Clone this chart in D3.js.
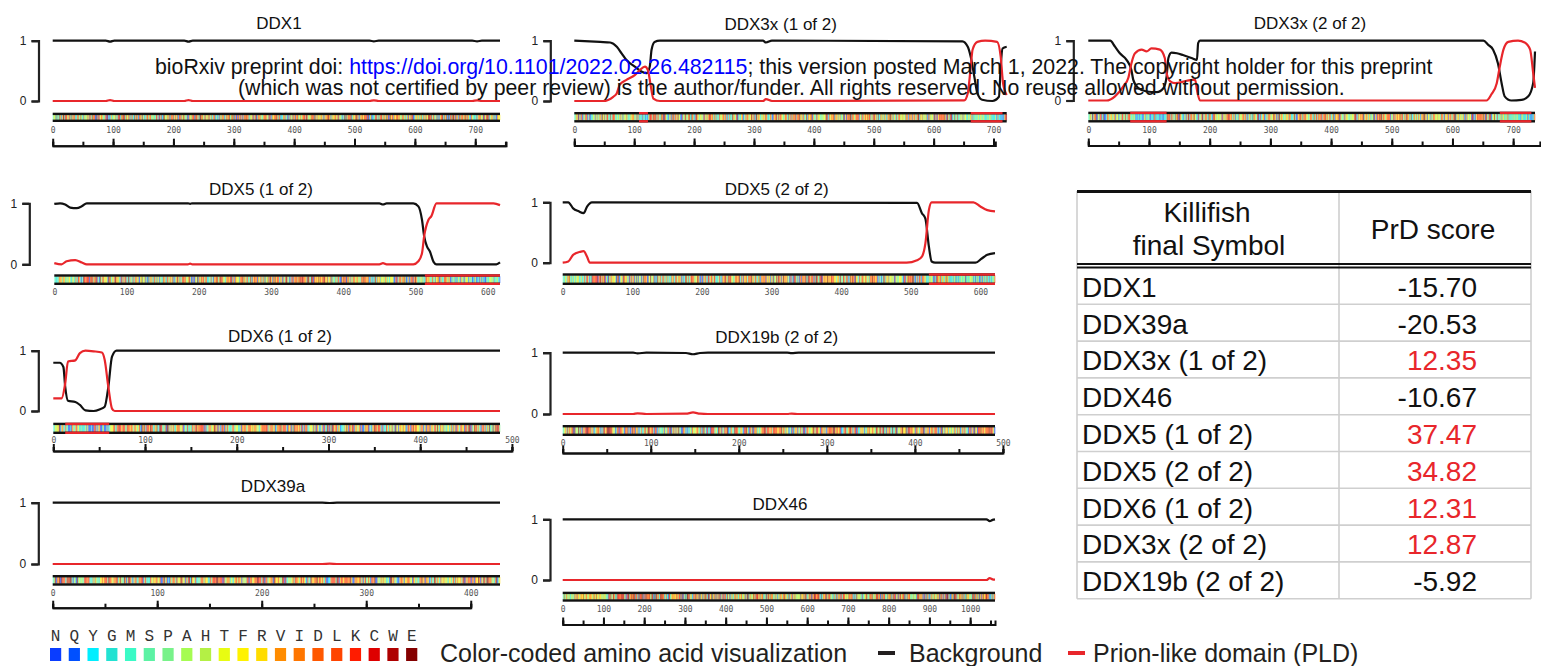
<!DOCTYPE html>
<html>
<head>
<meta charset="utf-8">
<script src="https://cdn.jsdelivr.net/npm/d3@7"></script>
<style>
  body { margin: 0; background: #fff; }
  svg { display: block; font-family: "Liberation Sans", Arial, sans-serif; }
</style>
</head>
<body>
<svg id="fig" width="1541" height="666"></svg>
<script>
// ---- data ----
const titles = ["DDX1", "DDX3x (1 of 2)", "DDX3x (2 of 2)", "DDX5 (1 of 2)", "DDX5 (2 of 2)",
                "DDX6 (1 of 2)", "DDX19b (2 of 2)", "DDX39a", "DDX46"];
const lengths = [741, 722, 736, 617, 621, 487, 491, 428, 1061];
const tickMax = [700, 700, 700, 600, 600, 500, 500, 400, 1000];
const rulerEnds = [751, 703, 744, null, null, 500, 500, 400, 1061];

// background (black) and PLD (red) probability curves, [residue, value]
const ddx1Bg = [[0,1],[88,1],[95,0.985],[102,1],[218,1],[225,0.985],[232,1],[525,1],[532,0.99],[540,1],[695,1],[703,0.99],[711,1],[741,1]];
const ddx1Pld = [[0,0],[88,0],[95,0.015],[102,0],[218,0],[225,0.015],[232,0],[525,0],[532,0.01],[540,0],[695,0],[703,0.01],[711,0],[741,0]];
const ddx3aBg = [[0,1],[43,0.98],[60,0.97],[71,0.9],[79,0.79],[87,0.68],[101,0.57],[112,0.49],[121,0.46],[126,0.57],[129,0.85],[134,0.98],[143,1],[315,1],[320,0.97],[330,1],[648,0.99],[657,0.9],[662,0.73],[668,0.4],[673,0.13],[681,0.02],[698,0],[709,0.07],[712,0.57],[715,0.87],[722,0.9]];
const ddx3aPld = [[0,0],[48,0],[65,0.07],[71,0.13],[76,0.27],[87,0.35],[101,0.43],[109,0.51],[118,0.57],[123,0.51],[127,0.29],[132,0.04],[143,0],[315,0],[320,0.03],[330,0],[651,0.01],[657,0.13],[662,0.57],[665,0.85],[673,0.98],[686,1],[706,0.98],[712,0.73],[716,0.29],[722,0.1]];
const ddx3bBg = [[0,1],[36,1],[44,0.9],[52,0.79],[63,0.68],[71,0.51],[74,0.35],[82,0.21],[96,0.15],[113,0.14],[124,0.21],[129,0.4],[132,0.71],[137,0.8],[146,0.79],[156,0.76],[170,0.71],[179,0.68],[181,0.96],[184,1],[651,1],[659,0.93],[667,0.85],[675,0.62],[681,0.29],[686,0.07],[697,0],[714,0.01],[725,0.07],[733,0.29],[736,0.82]];
const ddx3bPld = [[0,0],[30,0],[44,0.07],[58,0.24],[66,0.38],[71,0.62],[77,0.79],[88,0.85],[96,0.82],[104,0.87],[118,0.85],[126,0.71],[129,0.46],[135,0.32],[143,0.29],[162,0.33],[176,0.35],[179,0.18],[184,0],[656,0],[664,0.1],[673,0.29],[678,0.57],[684,0.85],[692,0.98],[708,1],[719,0.97],[728,0.85],[733,0.46],[736,0.21]];
const ddx5aBg = [[0,0.99],[8,1],[15,0.98],[22,0.93],[31,0.92],[38,0.95],[45,1],[185,1],[188,0.99],[191,1],[450,1],[455,0.98],[460,1],[497,1],[504,0.95],[509,0.73],[512,0.46],[516,0.29],[520,0.21],[525,0.04],[529,0],[612,0],[617,0.03]];
const ddx5aPld = [[0,0.02],[10,0],[17,0.05],[29,0.07],[38,0.03],[45,0],[185,0],[188,0.01],[191,0],[450,0],[455,0.02],[460,0],[497,0],[504,0.05],[509,0.18],[512,0.46],[518,0.73],[522,0.79],[529,1],[608,1],[617,0.97]];
const ddx5bBg = [[0,1],[8,1],[15,0.9],[23,0.85],[30,0.82],[35,0.93],[42,1],[497,0.99],[509,0.99],[516,0.82],[521,0.73],[526,0.27],[530,0.02],[535,0],[593,0],[602,0.07],[610,0.13],[621,0.16]];
const ddx5bPld = [[0,0],[8,0.02],[15,0.13],[25,0.18],[30,0.19],[35,0.1],[39,0],[494,0],[509,0.04],[516,0.1],[521,0.32],[526,0.87],[530,1],[590,1],[600,0.93],[610,0.87],[621,0.85]];
const ddx6Bg = [[0,0.8],[7,0.8],[11,0.73],[13,0.4],[16,0.17],[24,0.15],[29,0.1],[35,0.01],[44,0],[51,0.03],[56,0.07],[60,0.4],[64,0.9],[69,1],[487,1]];
const ddx6Pld = [[0,0.21],[9,0.21],[13,0.46],[16,0.82],[24,0.84],[29,0.96],[35,1],[44,0.99],[53,0.97],[56,0.85],[60,0.4],[64,0.04],[67,0],[487,0]];
const ddx19Bg = [[0,1],[80,1],[85,0.99],[95,1],[140,0.995],[148,0.975],[156,0.995],[165,1],[255,1],[260,0.993],[268,1],[491,1]];
const ddx19Pld = [[0,0],[80,0],[85,0.01],[95,0],[140,0.005],[148,0.025],[156,0.005],[165,0],[255,0],[260,0.007],[268,0],[491,0]];
const ddx39Bg = [[0,1],[258,1],[265,0.995],[272,1],[428,1]];
const ddx39Pld = [[0,0],[258,0],[265,0.005],[272,0],[428,0]];
const ddx46Bg = [[0,1],[1040,1],[1048,0.97],[1055,0.99],[1061,1]];
const ddx46Pld = [[0,0],[1040,0],[1048,0.03],[1055,0.01],[1061,0.005]];

const bgCurves = [ddx1Bg, ddx3aBg, ddx3bBg, ddx5aBg, ddx5bBg, ddx6Bg, ddx19Bg, ddx39Bg, ddx46Bg];
const pldCurves = [ddx1Pld, ddx3aPld, ddx3bPld, ddx5aPld, ddx5bPld, ddx6Pld, ddx19Pld, ddx39Pld, ddx46Pld];

// PLD stretches marked in red on the sequence bar
const pldRegions = [[], [[108,123],[662,715]], [[69,129],[678,730]], [[513,617]], [[526,621]], [[13,61]], [], [], []];

// sequence segments: [end residue, letters]
const ddx1Seq = [[741, "MAAFSEMGVMPEIAQAVEEMDWLLPTDIQAESIPLILGGGDVLMAAETGSGKTGAFSIPVIQIVYETLKDQQEGKKGKTTIKTGASVLNKWQMNPYDRGSAFAIGSDGLCCQSREVKEWHGCRATKGLMKGKHYYEVSCHDQGLCRVGWSTMQASLDLGTDKFGFGFGGTGKKSHNKQFDNYGEEFTMHDTIGCYLDIDKGHVKFSKNGKDLGLAFEIPPHMKNQALFPACVLKNAELKFNFGEEEFKFPPKDGFVALSKAPDGYIVKSQHSGNAQVTQTKFLPNAPKALIVEPSRELAEQTLNNIKQFKKYIDNPKLRELLIIGGVAARDQLSVLENGVDIVVGTPGRLDDLVSTGKLNLSQVRFLVLDEADGLLSQGYSDFINRMHNQIPQVTSDGKRLQVIVCSATLHSFDVKKLSEKIMHFPTWVDLKGEDSVPDTVHHVVVPVNPKTDRLWERLGKSHIRTDDVHAKDNTRPGANSPEMWSEAIKILKGEYAVRAIKEHKMDQAIIFCRTKIDCDNLEQYFIQQGGGPDKKGHQFSCVCLHGDRKPHERKQNLERFKKGDVRFLICTDVAARGIDIHGVPYVINVTLPDEKQNYVHRIGRVGRAERMGLAISLVATEKEKVWYHVCSSRGKGCYNTRLKEDGGCTIWYNEMQLLSEIEEHLNCTISQVEPDIKVPVDEFDGKVTYGQKRAAGGGSYKGHVDILAPTVQELAALEKEAQTSFLHLGYLPNQLFRTF"]];
const ddx3aSeq = [
  [108, "MSHVAVENALGLDQQFAGLDLNSSDNQSGGSTASKGRYIPPHLRNREATKGFYDKDSSGWSSSKDKDAYSSFGSRSDSRGKSSFFSDRGSGSRGRFDDRGRSDYDGI"],
  [123, "GGSYGNRGGSQGYGN"],
  [662, "SRWCDKSDEDDWSKPLPPSERLEQELFSGGNTGINFEKYDDIPVEATGNNCPPHIESFSDVEMGEIIMGNIELTRYTRPTPVQKHAIPIIKEKRDLMACAQTGSGKTAAFLLPILSQIYSDGPGEALRAMKENGRYGRRKQYPISLVLAPTRELAVQIYEEARKFSYRSRVRPCVVYGGADIGQQIRDLERGCHLLVATPGRLVDMMERGKIGLDFCKYLVLDEADRMLDMGFEPQIRRIVEQDTMPPKGVRHTMMFSATFPKEIQMLARDFLDEYIFLAVGRVGSTSENITQKVVWVEESDKRSFLLDLLNATGKDSLTLVFVETKKGADSLEDFLYHEGYACTSIHGDRSQRDREEALHQFRSGKSPILVATAVAARGLDISNVKHVINFDLPSDIEEYVHRIGRTGRVGNLGLATSFFNERNINITKDLLDLLVEAKQEVPSWLENMAYEHHYKGSSRGRSKSSRFSGGFGAR"],
  [715, "DYRQSSGASSSSFSSSRASSSRSGGGGHGSSRGFGGGGYGGFYNSDGYGGNYN"],
  [722, "SQGVDWW"]];
const ddx3bSeq = [
  [69, "MSHVAPENAVDLEQQFAGLDLNSSEQNQSGKTDAGRFIPPHLRNRPTTQSSFYDKDSSRWSPSKDKD"],
  [129, "AYSSFGSRGNYNSGGQSGYGNQSRGDYSGFGSNQGGYSNRWSQSGYGGNSQYSNQGGGYS"],
  [678, "DEDDWSKPLPPSERLEQELFSGGNTGINFEKYDDIPVEATGSNCPPHIENFSDIDMGEIIMGNIELTRYTRPTPVQKHAIPIIKEKRDLMACAQTGSGKTAAFLLPILSQIYTDGPGEALRAMKENGKYGRRKQYPISLVLAPTRELAVQIYEEARKFSYRSRVRPCVVYGGAEIGQQIRDLERGCHLLVATPGRLVDMMERGKIGLDFCKYLVLDEADRMLDMGFEPQIRRIVEQDTMPPKGVRHTMMFSATFPKEIQMLARDFLDEYIFLAVGRVGSTSENITQKVVWVEEADKRSFLLDLLNATGKDSLTLVFVETKKGADSLEDFLYHEGYACTSIHGDRSQRDREEALHQFRSGKSPILVATAVAARGLDISNVRHVINFDLPSDIEEYVHRIGRTGRVGNLGLATSFFNEKNMNITKDLLDLLVEAKQEVPSWLENMAFEHHYKGSS"],
  [730, "RGRSKSSRFSGGFGSRDYRQSSGSGSSGFGSSRGSSSRSGGGGYGNSRGFGGGGYGGFYNSDGYGGNY"],
  [736, "NSQGVD"]];
const ddx5aSeq = [
  [513, "MSGYSSDRDRGRDRGFGAPRFGGSRAGPLSGKKFGNPGEKLVKKKWNLDELPKFEKNFYQEHPDLARRTAQEVETYRRSKEITVRGHNCPKPVLNFYEANFPANVMDVIARQNFTEPTAIQAQGWPVALSGLDMVGVAQTGSGKTLSYLLPAIVHINHQPFLERGDGPICLVLAPTRELAQQVQQVAAEYCRACRLKSTCIYGGAPKGPQIRDLERGVEICIATPGRLIDFLECGKTNLRRTTYLVLDEADRMLDMGFEPQIRKIVDQIRPDRQTLMWSATWPKEVRQLAEDFLKDYIHINIGALELSANHNILQIVDVCHDVEKDEKLIRLMEEIMSEKENKTIVFVETKRRCDELTRKMRRDGWPAMGIHGDKSQQERDWVLNEFKHGKAPILIATDVASRGLDVEDVKFVINYDYPNSSEDYIHRIGRTARSTKTGTAYTFFTPNNIKQVSDLISVLREANQAINPKLLQLVEDRGSGRSRGRGG"],
  [617, "MKDDRRDRYSAGKRGGFNTFRDRENYDRGYSSLLKRDFGAKTQNGVYSAANYTNGSFGSNFVSAGIQTSFRTGNPTGTYQNGYDSTQQYGSNVPNMHNGMNQQAYAYPATAAAPMIGYPMPTGYSQ"]];
const ddx5bSeq = [
  [526, "MPGFSSDRERGGRGGFGAPRFGGSRGGPLSGKKFGNPGEKLVKKKWNLDELPKFEKNFYQEHPDVARRTPQEVEQYRRSKEITVRGHNCPKPIINFYEANFPANVMEVIKRQNFTEPTAIQAQGWPVALSGLDMVGVAQTGSGKTLSYLLPAIVHINHQPYLERGDGPICLVLAPTRELAQQVQQVADDYGKCSRLKSTCIYGGAPKGPQIRDLERGVEICIATPGRLIDFLESGKTNLRRCTYLVLDEADRMLDMGFEPQIRKIVDQIRPDRQTLMWSATWPKEVRQLAEDFLRDYTQINVGNLELSANHNILQIVDVCMESEKDHKLIQLMEEIMAEKENKTIIFVETKRRCDDLTRRMRRDGWPAMCIHGDKSQPERDWVLNEFRSGKAPILIATDVASRGLDVEDVKFVINYDYPNSSEDYVHRIGRTARSTNKGTAYTFFTPGNLKQARELIKVLEEANQAINPKLMQLVDHRGGGG"],
  [621, "RSRYRTTSSANNPNLMYQDECDRRLRGVKDGGRRDSASYRDRSETDRAGYANGSGYGSPNSAFGAQAGQYTYGQGTYGAAAYGTSSYTAQEYGAGTYGASSTTSTGRSSQSSSQQFSGIGRSGQQPQPLMSQQFAQPPGATNMIGYMGQTAYQYPPPPPSRK"]];
const ddx6Seq = [
  [13, "MSTARTENPVIMG"],
  [61, "LSSQNGQLRGPVKPTGGPGGGGTQTQQQMNQLKNTNTINNGTQQQAQS"],
  [487, "MTTTIKPGDDWKKTLKLPPKDLRIKTSDVTSTKGNEFEDYCLKRELLMGIFEMGWEKPSPIQEESIPIALSGRDILARAKNGTGKSGAYLIPLLERLDLKKDNIQAMVIVPTRELALQVSQICIQVSKHMGGAKVMATTGGTNLRDDIMRLDDTVHVVIATPGRILDLIKKGVAKVDHVQMIVLDEADKLLSQDFVQIMEDIILTLPKNRQILLYSATFPLSVQKFMNSHLQKPYEINLMEELTLKGVTQYYAYVTERQKVHCLNTLFSRLQINQSIIFCNSSQRVELLAKKISQLGYSCFYIHAKMRQEHRNRVFHDFRNGLCRNLVCTDLFTRGIDIQAVNVVINFDFPKLAETYLHRIGRSGRFGHLGLAINLITYDDRFNLKSIEEQLGTEIKPIPSNIDKSLYVAEYHSEPVEDEKP"]];
const ddx19Seq = [[491, "MATDSWALAVDEQEAAAESLSNLHLKEEKIKPDTNGAVVKTNANAEKTDEEEKEDRAAQSLLNKLIRSNLVDNTNQVEVLQRDPNSPLYSVKSFEELRLKPQLLQGVYAMGFNRPSKIQENALPLMLAEPPQNLIAQSQSGTGKTAAFVLAMLSQVEPANKYPQCLCLSPTYELALQTGKVIEQMGKFYPELKLAYAVRGNKLERGQKISEQIVIGTPGTVLDWCSKLKFIDPKKIKVFVLDEADVMIATQGHQDQSIRIQRMLPRNCQMLLFSATFEDSVWKFAQKVVPDPNVIKLKREEETLDTIKQYYVLCSSRDEKFQALCNLYGAITIAQAMIFCHTRKTASWLAAELSKEGHQVALLSGEMMVEQRAAVIERFREGKEKVLVTTNVCARGIDVEQVSVVINFDLPVDKDGNPDNETYLHRIGRTGRFGKRGLAVNMVDSKHSMNILNRIQEHFNKKIERLDTDDLDEIEKIAN"]];
const ddx39Seq = [[428, "MAEQDVENELLDYDEDEEPQAPQESTPAPPKKDIKGSYVSIHSSGFRDFLLKPELLRAIVDCGFEHPSEVQHECIPQAILGMDVLCQAKSGMGKTAVFVLATLQQIEPVNGQVSVLVMCHTRELAFQISKEYERFSKYMPSVKVSVFFGGLSIKKDEEVLKKNCPHVVVGTPGRILALVRNRSFSLKNVKHFVLDECDKMLEQLDMRRDVQEIFRLTPHEKQCMMFSATLSKDIRPVCRKFMQDPMEVFVDDETKLTLHGLQQYYVKLKDSEKNRKLFDLLDVLEFNQVIIFVKSVQRCMALAQLLVEQNFPAIAIHRGMAQEERLSRYQQFKDFQRRILVATNLFGRGMDIERVNIVFNYDMPEDSDTYLHRVARAGRFGTKGLAITFVSDENDAKILNDVQDRFEVNVAELPEEIDISTYIEQSR"]];
const ddx46Seq = [[1061, "MGRESRHYRKRSASRGRSGSRSRSRSPSDKRSKRGDDRRSRSRDRDRRRERSRSRDKRRSRSRDRKRLRRSRSRERDRSRERRRSRSRDRRRSRSRSRGRRSRSSSPGNKSKKTENRSRSKEKTDGGESSKEKKKDKDDKEDEKEKDAGNFDQNKLEEEMRKRKERVEKWREEQRKKAMENIGELKKEIEEMKQGKKWSLEDDDDDEDDPAEAEKEGNEMEGEELDPLDAYMEEVKEEVKKFNMRSVKGGGGNEKKSGPTVTKVVTVVTTKKAVVDSDKKKGELMENDQDAMEYSSEEEEVDLQTALTGYQTKQRKLLEPVDHGKIEYEPFRKNFYVEVPELAKMSQEEVNVFRLEMEGITVKGKGCPKPIKSWVQCGISMKILNSLKKHGYEKPTPIQTQAIPAIMSGRDLIGIAKTGSGKTIAFLLPMFRHIMDQRSLEEGEGPIAVIMTPTRELALQITKECKKFSKTLGLRVVCVYGGTGISEQIAELKRGAEIIVCTPGRMIDMLAANSGRVTNLRRVTYVVLDEADRMFDMGFEPQVMRIVDNVRPDRQTVMFSATFPRAMEALARRILSKPIEVQVGGRSVVCSDVEQQVIVIEEEKKFLKLLELLGHYQESGSVIIFVDKQEHADGLLKDLMRASYPCMSLHGGIDQYDRDSIINDFKNGTCKLLVATSVAARGLDVKHLILVVNYSCPNHYEDYVHRAGRTGRAGNKGYAYTFITEDQARYAGDIIKALELSGTAVPPDLEKLWSDFKDQQKAEGKIIKKSSGFSGKGFKFDETEQALANERKKLQKAALGLQDSDDEDAAVDIDEQIESMFNSKKRVKDMAAPGTSSVPAPTAGNAEKLEIAKRLALRINAQKNLGIESQVDVMQQATNAILRGGTILAPTVSAKTIAEQLAEKINAKLNYVPLEKQEEERQDGGQNESFKRYEEELEINDFPQTARWKVTSKEALQRISEYSEAAITIRGTYFPPGKEPKEGERKIYLAIESANELAVQKAKAEITRLIKEELIRLQNSYQPTNKGRYKVL"]];
const sequences = [ddx1Seq, ddx3aSeq, ddx3bSeq, ddx5aSeq, ddx5bSeq, ddx6Seq, ddx19Seq, ddx39Seq, ddx46Seq];

// amino acid colour key
const aaLetters = ["N","Q","Y","G","M","S","P","A","H","T","F","R","V","I","D","L","K","C","W","E"];
const aaColors = ["#0a3dff","#0050ff","#00eeff","#22e2d2","#3afac6","#5cf2a4","#78f28a","#a6fc52","#b4f045","#e8fc12",
                  "#fff200","#ffdc00","#ff8c00","#ff7600","#ff5800","#ff4400","#ff1c00","#de0000","#ae0000","#840000"];

// table
const tableSymbols = ["DDX1", "DDX39a", "DDX3x (1 of 2)", "DDX46", "DDX5 (1 of 2)", "DDX5 (2 of 2)",
                      "DDX6 (1 of 2)", "DDX3x (2 of 2)", "DDX19b (2 of 2)"];
const tableScores = [-15.70, -20.53, 12.35, -10.67, 37.47, 34.82, 12.31, 12.87, -5.92];

// ---- layout ----
const boxes = [
  {x0: 52.7,  x1: 500,    y1: 40.7,  y0: 101,   bt: 112.7, bb: 122,   ly: 130,   ry: 145.7, tx: 279,   ty: 29.3,  ax: 38.5},
  {x0: 574.3, x1: 1006.7, y1: 40.7,  y0: 101,   bt: 112,   bb: 122.5, ly: 130,   ry: 145.5, tx: 780.7, ty: 30,    ax: 550.3},
  {x0: 1088.3, x1: 1535,  y1: 40.7,  y0: 100.5, bt: 111.7, bb: 122.5, ly: 130,   ry: 145.5, tx: 1310,  ty: 28.5,  ax: 1073.3},
  {x0: 54.3,  x1: 500,    y1: 203.3, y0: 264.3, bt: 274.3, bb: 285,   ly: 291.7, ry: null,  tx: 261,   ty: 195,   ax: 29.3},
  {x0: 562.7, x1: 995,    y1: 202.3, y0: 262.7, bt: 273.3, bb: 285,   ly: 291.7, ry: null,  tx: 776.7, ty: 195,   ax: 550},
  {x0: 53.3,  x1: 500,    y1: 350.7, y0: 411,   bt: 422.7, bb: 434,   ly: 440,   ry: 451,   tx: 280,   ty: 341.7, ax: 38.3},
  {x0: 562.7, x1: 995,    y1: 352.7, y0: 414,   bt: 425,   bb: 436,   ly: 443.3, ry: 453,   tx: 776.7, ty: 343.3, ax: 550},
  {x0: 52.7,  x1: 500,    y1: 502.7, y0: 564,   bt: 575,   bb: 585.7, ly: 593,   ry: 607.7, tx: 273,   ty: 491.7, ax: 38.3},
  {x0: 562.7, x1: 995,    y1: 519.3, y0: 580,   bt: 591.7, bb: 601.7, ly: 609.3, ry: 624.5, tx: 780,   ty: 510,   ax: 550}
];

const RED = "#e8262b";
const INK = "#111";
const svg = d3.select("svg#fig");
const aaColor = d3.scaleOrdinal().domain(aaLetters).range(aaColors);

function drawPanel(i) {
  const b = boxes[i];
  const len = lengths[i];
  const x = d3.scaleLinear().domain([0, len]).range([b.x0, b.x1]);
  const y = d3.scaleLinear().domain([0, 1]).range([b.y0, b.y1]);
  const g = svg.append("g").attr("class", "panel");

  g.append("text")
    .attr("x", b.tx).attr("y", b.ty)
    .attr("text-anchor", "middle")
    .attr("font-size", 17).attr("fill", INK)
    .text(titles[i]);

  // "]" shaped 0..1 axis
  g.append("g")
    .attr("transform", `translate(${b.ax},0)`)
    .call(d3.axisLeft(y).tickValues([0, 1]).tickFormat(d3.format("d")).tickSize(7).tickPadding(5))
    .call(a => {
      a.attr("font-family", null).attr("font-size", 12);
      a.select(".domain").attr("stroke", "#222").attr("stroke-width", 2.2);
      a.selectAll(".tick line").attr("stroke", "#222").attr("stroke-width", 2.2);
      a.selectAll(".tick text").attr("fill", "#222");
    });

  const line = d3.line()
    .x(d => x(d[0]))
    .y(d => y(d[1]))
    .curve(d3.curveMonotoneX);

  g.append("path").datum(bgCurves[i])
    .attr("d", line).attr("fill", "none")
    .attr("stroke", INK).attr("stroke-width", 2.2);
  g.append("path").datum(pldCurves[i])
    .attr("d", line).attr("fill", "none")
    .attr("stroke", RED).attr("stroke-width", 2.2);

  // colour-coded sequence bar
  const bar = g.append("g");
  let start = 0;
  sequences[i].forEach(([end, s]) => {
    const st = start;
    const w = (end - st) / s.length;
    bar.selectAll(null)
      .data(s.split(""))
      .join("rect")
        .attr("x", (c, j) => x(st + j * w))
        .attr("width", x(w) - x(0) + 0.35)
        .attr("y", b.bt + 2)
        .attr("height", b.bb - b.bt - 4)
        .attr("fill", c => aaColor(c))
        .attr("fill-opacity", 0.6);
    start = end;
  });
  [b.bt, b.bb - 2.4].forEach(yy => {
    bar.append("rect")
      .attr("x", x(0)).attr("width", x(len) - x(0))
      .attr("y", yy).attr("height", 2.4).attr("fill", INK);
    pldRegions[i].forEach(([s0, s1]) => {
      bar.append("rect")
        .attr("x", x(s0)).attr("width", x(s1) - x(s0))
        .attr("y", yy).attr("height", 2.4).attr("fill", RED);
    });
  });

  // residue tick labels
  g.append("g")
    .attr("transform", `translate(0,${b.ly})`)
    .call(d3.axisBottom(x).tickValues(d3.range(0, tickMax[i] + 1, 100))
      .tickFormat(d3.format("d")).tickSize(0).tickPadding(0))
    .call(a => {
      a.attr("font-family", null).attr("font-size", null);
      a.select(".domain").remove();
      a.selectAll(".tick text")
        .attr("y", 0).attr("dy", "0.35em")
        .attr("font-family", "'DejaVu Sans Mono', monospace")
        .attr("font-size", 8).attr("fill", "#555");
    });

  // scale ruler
  if (rulerEnds[i] && b.ry) {
    const re = rulerEnds[i];
    const rx = x.copy().domain([0, re]).range([x(0), x(re)]);
    const rg = g.append("g").attr("transform", `translate(0,${b.ry})`);
    rg.append("g")
      .call(d3.axisTop(rx).tickValues(d3.range(0, re + 1, 50)).tickSize(4).tickSizeOuter(4).tickFormat(""));
    rg.append("g")
      .call(d3.axisTop(rx).tickValues(d3.range(0, re + 1, 100)).tickSize(7).tickSizeOuter(0).tickFormat(""));
    rg.selectAll("path, line").attr("stroke", INK).attr("stroke-width", 2);
  }
}

d3.range(titles.length).forEach(drawPanel);

// ---- bioRxiv watermark ----
const wm = svg.append("g").attr("font-size", 21.3).attr("fill", INK);
const wl1 = wm.append("text").attr("x", 155).attr("y", 74);
wl1.append("tspan").text("bioRxiv preprint doi: ");
wl1.append("tspan").attr("fill", "#0000ff").text("https://doi.org/10.1101/2022.02.26.482115");
wl1.append("tspan").text("; this version posted March 1, 2022. The copyright holder for this preprint");
wm.append("text").attr("x", 238).attr("y", 95)
  .text("(which was not certified by peer review) is the author/funder. All rights reserved. No reuse allowed without permission.");

// ---- table ----
const tLeft = 1077, tMid = 1339, tRight = 1531;
const rowY = d3.scaleBand().domain(tableSymbols).range([267.5, 598.7]);
const tg = svg.append("g");
const GRID = "#cfcfcf";

rowY.domain().forEach(s => {
  tg.append("line")
    .attr("x1", tLeft).attr("x2", tRight)
    .attr("y1", rowY(s) + rowY.bandwidth()).attr("y2", rowY(s) + rowY.bandwidth())
    .attr("stroke", GRID).attr("stroke-width", 1.6);
});
[tLeft, tMid, tRight].forEach(xx => {
  tg.append("line")
    .attr("x1", xx).attr("x2", xx).attr("y1", 191).attr("y2", 598.7)
    .attr("stroke", GRID).attr("stroke-width", 1.6);
});
tg.append("line").attr("x1", tLeft).attr("x2", tRight).attr("y1", 191.5).attr("y2", 191.5)
  .attr("stroke", INK).attr("stroke-width", 3);
[264, 267.5].forEach(yy => {
  tg.append("line").attr("x1", tLeft).attr("x2", tRight).attr("y1", yy).attr("y2", yy)
    .attr("stroke", INK).attr("stroke-width", 2);
});

const th = tg.append("g").attr("font-size", 28).attr("fill", INK).attr("text-anchor", "middle");
th.append("text").attr("x", 1207).attr("y", 222).text("Killifish");
th.append("text").attr("x", 1209).attr("y", 255).text("final Symbol");
th.append("text").attr("x", 1433).attr("y", 239).text("PrD score");

tg.selectAll("text.sym")
  .data(tableSymbols)
  .join("text")
    .attr("class", "sym")
    .attr("x", 1082)
    .attr("y", d => rowY(d) + 29.3)
    .attr("font-size", 28).attr("fill", INK)
    .text(d => d);
tg.selectAll("text.score")
  .data(tableScores)
  .join("text")
    .attr("class", "score")
    .attr("x", 1477)
    .attr("y", (d, k) => rowY(tableSymbols[k]) + 29.3)
    .attr("text-anchor", "end")
    .attr("font-size", 28)
    .attr("fill", d => d > 0 ? RED : INK)
    .text(d => d.toFixed(2));

// ---- legend ----
const lx = d3.scalePoint().domain(aaLetters).range([55.6, 411.7]);
const lg = svg.append("g");
lg.selectAll("text.aa")
  .data(aaLetters)
  .join("text")
    .attr("class", "aa")
    .attr("x", d => lx(d)).attr("y", 641)
    .attr("text-anchor", "middle")
    .attr("font-family", "'Liberation Mono', 'Courier New', monospace")
    .attr("font-size", 16).attr("fill", "#333")
    .text(d => d);
lg.selectAll("rect.aa")
  .data(aaLetters)
  .join("rect")
    .attr("class", "aa")
    .attr("x", d => lx(d) - 5.6).attr("y", 648)
    .attr("width", 11.2).attr("height", 13)
    .attr("fill", d => aaColor(d));

const lt = lg.append("g").attr("font-size", 25).attr("fill", "#231f20");
lt.append("text").attr("x", 440).attr("y", 662).text("Color-coded amino acid visualization");
lg.append("rect").attr("x", 878).attr("y", 651).attr("width", 17).attr("height", 4).attr("fill", "#231f20");
lt.append("text").attr("x", 909).attr("y", 662).text("Background");
lg.append("rect").attr("x", 1068).attr("y", 651).attr("width", 17).attr("height", 4).attr("fill", RED);
lt.append("text").attr("x", 1093).attr("y", 662).text("Prion-like domain (PLD)");
</script>
</body>
</html>
